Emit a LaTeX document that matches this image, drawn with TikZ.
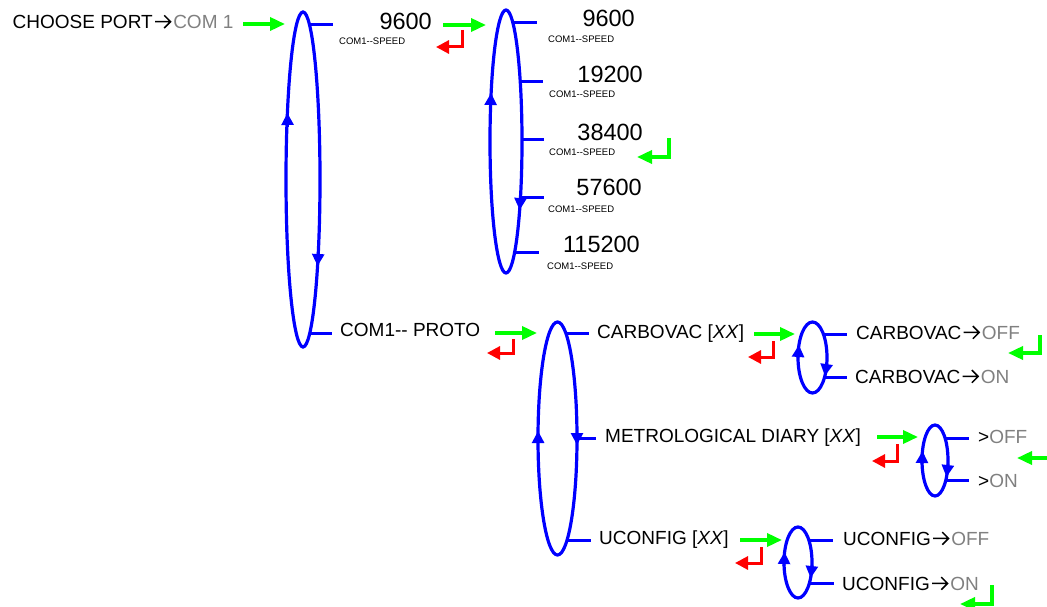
\documentclass[tikz,border=0pt]{standalone}
\usepackage{fontspec}
\setmainfont{Liberation Sans}
\usetikzlibrary{arrows.meta,shapes.geometric}
\definecolor{menublue}{RGB}{0,0,255}
\definecolor{okgreen}{RGB}{0,255,0}
\definecolor{backred}{RGB}{255,0,0}
\definecolor{valgray}{RGB}{128,128,128}
\newcommand{\val}[1]{\textcolor{valgray}{#1}}
\newcommand{\xx}{[\textit{XX}]}
% cap-height arrow with an open chevron head
\newcommand{\rarr}{\hspace{1.5pt}\tikz[baseline=0pt,x=1pt,y=1pt]
  \draw[line width=1.5pt, line cap=butt, miter limit=10]
  (0,6.6) -- (15.5,6.6) (9.2,12.9) -- (15.5,6.6) -- (9.2,0.3);\hspace{2pt}}
\begin{document}
\begin{tikzpicture}[x=1pt,y=-1pt,
  loop/.style={draw=menublue, line width=3.2pt, ellipse, inner sep=0pt, outer sep=0pt},
  branch/.style={draw=menublue, line width=3pt},
  turn/.style={draw=menublue, line width=2.6pt, -{Triangle[length=12pt,width=12pt]}},
  go/.style={draw=okgreen, line width=3.5pt, -{Triangle[length=15pt,width=13pt]}},
  back/.style={draw=backred, line width=3pt, -{Triangle[length=13pt,width=13pt]}},
  main/.style={inner sep=0pt, anchor=base west, font=\fontsize{19}{22}\selectfont},
  big/.style={inner sep=0pt, anchor=base east, font=\fontsize{23.5}{26}\selectfont},
  small/.style={inner sep=0pt, anchor=base west, font=\fontsize{9.5}{11}\selectfont},
]
\useasboundingbox (0,0) rectangle (1047,607);

% ---- selection loops ----
\node[loop, minimum width=34pt, minimum height=335pt] (e1) at (303,179.5) {};
\node[loop, minimum width=32pt, minimum height=263pt] (e2) at (506,141.5) {};
\node[loop, minimum width=39pt, minimum height=233pt] (e3) at (557.5,438.5) {};
\node[loop, minimum width=29pt, minimum height=71pt] (e4) at (812.5,357.5) {};
\node[loop, minimum width=26pt, minimum height=71pt] (e5) at (935,460.5) {};
\node[loop, minimum width=28pt, minimum height=71pt] (e6) at (798,562.5) {};

% direction marks on the loops
\draw[turn] (287.6,127) -- (287.4,113);
\draw[turn] (318.3,252) -- (317.6,266);
\draw[turn] (490.6,107) -- (491.1,93);
\draw[turn] (520.6,196) -- (519.7,210);
\draw[turn] (538.1,445) -- (538.1,431);
\draw[turn] (577,431) -- (577,445);
\draw[turn] (798,358) -- (798.9,345);
\draw[turn] (826.8,363) -- (824.9,376);
\draw[turn] (922,464) -- (922.5,451);
\draw[turn] (948,464) -- (946.5,477);
\draw[turn] (784,566) -- (784.6,552);
\draw[turn] (812,565) -- (810.6,578);

% ---- labels ----
\node[main] (port) at (12.5,28.3) {CHOOSE PORT\rarr\val{COM 1}};

\node[big] (spd) at (432,30) {9600};
\node[small] (spdsub) at (339,45) {COM1-{}-SPEED};

\node[big] (v1) at (635,27) {9600};
\node[small] (v1s) at (548,43) {COM1-{}-SPEED};
\node[big] (v2) at (643,83) {19200};
\node[small] (v2s) at (549,98) {COM1-{}-SPEED};
\node[big] (v3) at (643,141) {38400};
\node[small] (v3s) at (549,156) {COM1-{}-SPEED};
\node[big] (v4) at (642,196) {57600};
\node[small] (v4s) at (548,212) {COM1-{}-SPEED};
\node[big] (v5) at (640,252) {115200};
\node[small] (v5s) at (547,269) {COM1-{}-SPEED};

\node[main] (proto) at (340,336) {COM1-{}- PROTO};
\node[main] (carb) at (597,338) {CARBOVAC \xx};
\node[main] (metro) at (605,442) {METROLOGICAL DIARY \xx};
\node[main] (ucfg) at (599,544) {UCONFIG \xx};

\node[main] (carboff) at (856,339) {CARBOVAC\rarr\val{OFF}};
\node[main] (carbon) at (855,383) {CARBOVAC\rarr\val{ON}};
\node[main] (metoff) at (978,443) {>\val{OFF}};
\node[main] (meton) at (978,487) {>\val{ON}};
\node[main] (ucoff) at (843,545) {UCONFIG\rarr\val{OFF}};
\node[main] (ucon) at (842,590) {UCONFIG\rarr\val{ON}};

% ---- branches from the loops ----
\draw[branch] (309.5,24.5) -- (333,24.5);
\draw[branch] (309.5,333) -- (332,333);

\draw[branch] (513,22.5) -- (537,22.5);
\draw[branch] (520.3,82) -- (543,82);
\draw[branch] (522,139.5) -- (544,139.5);
\draw[branch] (520.6,197) -- (544,197);
\draw[branch] (514.7,252) -- (539,252);

\draw[branch] (565.8,333) -- (589,333);
\draw[branch] (577,438) -- (596,438);
\draw[branch] (567,540) -- (591,540);

\draw[branch] (823.4,334) -- (847,334);
\draw[branch] (824.6,377) -- (847,377);
\draw[branch] (945,438) -- (969,438);
\draw[branch] (945.9,480) -- (969,480);
\draw[branch] (808.8,540) -- (833,540);
\draw[branch] (809.4,583) -- (834,583);

% ---- enter (green) and back (red) keys ----
\draw[go] (243,24) -- (285,24);
\draw[go] (443,25) -- (486,25);
\draw[go] (495,333) -- (537,333);
\draw[go] (754,334) -- (795,334);
\draw[go] (877,437) -- (918,437);
\draw[go] (740,540) -- (782,540);
\draw[go] (1050,458) -- (1017,458);

\draw[back] (462,30) -- (462,47) -- (436,47);
\draw[back] (513,339) -- (513,353) -- (487,353);
\draw[back] (773,341) -- (773,357) -- (748,357);
\draw[back] (897,444) -- (897,461) -- (872,461);
\draw[back] (761,547) -- (761,563) -- (735,563);

\draw[go] (669,138) -- (669,157) -- (637,157);
\draw[go] (1040,335) -- (1040,353) -- (1008,353);
\draw[go] (992,585) -- (992,604) -- (960,604);
\end{tikzpicture}
\end{document}
